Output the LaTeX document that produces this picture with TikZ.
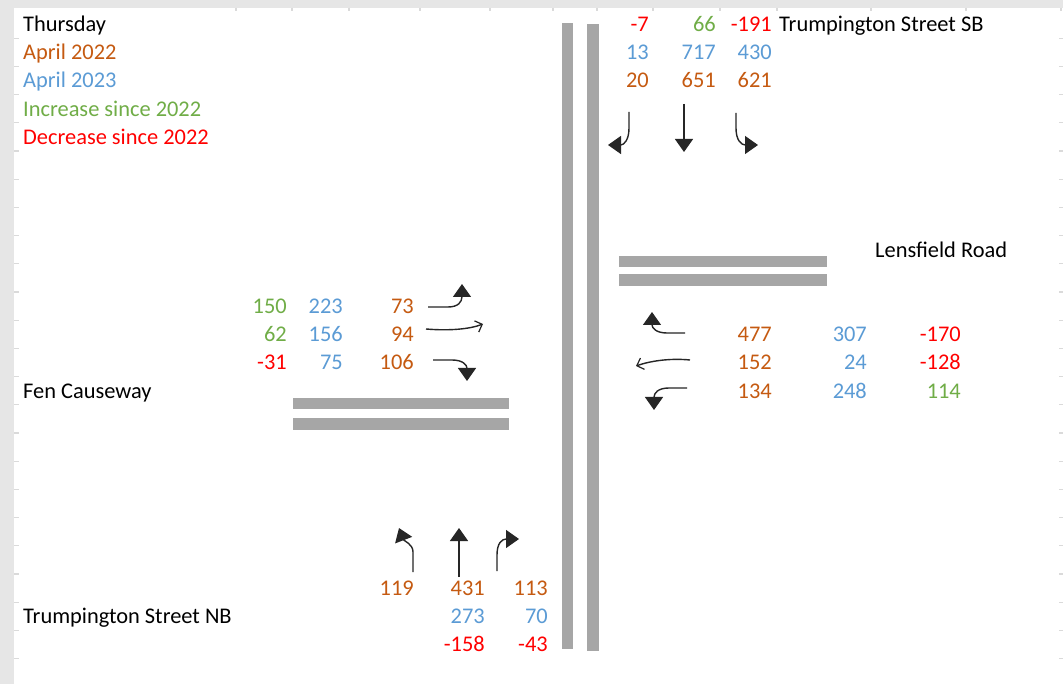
\documentclass[tikz,border=0pt]{standalone}
\usepackage{fontspec}
\setmainfont{Carlito}
\usetikzlibrary{arrows.meta}
\definecolor{cOr}{HTML}{C55A11}
\definecolor{cBl}{HTML}{5B9BD5}
\definecolor{cGr}{HTML}{70AD47}
\definecolor{cRd}{HTML}{FF0000}
\definecolor{road}{HTML}{A6A6A6}
\definecolor{band}{HTML}{E6E6E6}
\definecolor{tickc}{HTML}{DADADA}
\begin{document}
\begin{tikzpicture}[x=1pt,y=-1pt,font=\fontsize{22.4}{27}\selectfont,
  num/.style={anchor=base east,inner sep=0pt},
  lab/.style={anchor=base west,inner sep=0pt},
  roadbar/.style={fill=road,draw=none},
  mv/.style={draw=black!85,line width=1.4pt},
  solidtip/.style={-{Triangle[width=18pt,length=13pt]}},
  opentip/.style={-{Straight Barb[width=12pt,length=6pt,line width=1.2pt]}},
  gridtick/.style={draw=tickc,line width=1.2pt}]
% background
\fill[white] (0,0) rectangle (1063,684);
\fill[band] (0,0) rectangle (1063,8);
\fill[band] (0,0) rectangle (14,684);
\useasboundingbox (0,0) rectangle (1063,684);
\foreach \k in {1,...,24} {
  \draw[gridtick] (14,{10+28.2*\k}) -- (19,{10+28.2*\k});
  \draw[gridtick] (1059,{10+28.2*\k}) -- (1063,{10+28.2*\k});
}
\foreach \c in {236,292,349,420,490,553,597,653,720,777,871,966,1061}
  \draw[gridtick] (\c,8) -- (\c,11);

% roads
\fill[roadbar] (562,23) rectangle (573,649);
\fill[roadbar] (587,24) rectangle (599,651);
\fill[roadbar] (619,256) rectangle (827,267);
\fill[roadbar] (619,274) rectangle (827,286);
\fill[roadbar] (293,398) rectangle (509,409);
\fill[roadbar] (293,418) rectangle (509,430);

% legend and labels
\node[lab] (thu) at (23,31.5) {Thursday};
\node[lab,text=cOr] (k22) at (23,59.7) {April 2022};
\node[lab,text=cBl] (k23) at (23,87.9) {April 2023};
\node[lab,text=cGr] (kinc) at (23,116.1) {Increase since 2022};
\node[lab,text=cRd] (kdec) at (23,144.3) {Decrease since 2022};
\node[lab] (fen) at (23,398.1) {Fen Causeway};
\node[lab] (tnb) at (23,623.7) {Trumpington Street NB};
\node[lab] (tsb) at (779,31.5) {Trumpington Street SB};
\node[lab] (lens) at (875,257.1) {Lensfield Road};

% Trumpington Street SB
\node[num,text=cRd] (sb1a) at (649,31.5) {-7};
\node[num,text=cGr] (sb1b) at (716,31.5) {66};
\node[num,text=cRd] (sb1c) at (772,31.5) {-191};
\node[num,text=cBl] (sb2a) at (649,59.7) {13};
\node[num,text=cBl] (sb2b) at (716,59.7) {717};
\node[num,text=cBl] (sb2c) at (772,59.7) {430};
\node[num,text=cOr] (sb3a) at (649,87.9) {20};
\node[num,text=cOr] (sb3b) at (716,87.9) {651};
\node[num,text=cOr] (sb3c) at (772,87.9) {621};

% Fen Causeway
\node[num,text=cGr] (fc1a) at (287,313.5) {150};
\node[num,text=cBl] (fc1b) at (343,313.5) {223};
\node[num,text=cOr] (fc1c) at (414,313.5) {73};
\node[num,text=cGr] (fc2a) at (287,341.7) {62};
\node[num,text=cBl] (fc2b) at (343,341.7) {156};
\node[num,text=cOr] (fc2c) at (414,341.7) {94};
\node[num,text=cRd] (fc3a) at (287,369.9) {-31};
\node[num,text=cBl] (fc3b) at (343,369.9) {75};
\node[num,text=cOr] (fc3c) at (414,369.9) {106};

% Lensfield Road
\node[num,text=cOr] (lr1a) at (772,341.7) {477};
\node[num,text=cBl] (lr1b) at (867,341.7) {307};
\node[num,text=cRd] (lr1c) at (961,341.7) {-170};
\node[num,text=cOr] (lr2a) at (772,369.9) {152};
\node[num,text=cBl] (lr2b) at (867,369.9) {24};
\node[num,text=cRd] (lr2c) at (961,369.9) {-128};
\node[num,text=cOr] (lr3a) at (772,398.1) {134};
\node[num,text=cBl] (lr3b) at (867,398.1) {248};
\node[num,text=cGr] (lr3c) at (961,398.1) {114};

% Trumpington Street NB
\node[num,text=cOr] (nb1a) at (414,595.5) {119};
\node[num,text=cOr] (nb1b) at (485,595.5) {431};
\node[num,text=cOr] (nb1c) at (548,595.5) {113};
\node[num,text=cBl] (nb2b) at (485,623.7) {273};
\node[num,text=cBl] (nb2c) at (548,623.7) {70};
\node[num,text=cRd] (nb3b) at (485,651.9) {-158};
\node[num,text=cRd] (nb3c) at (548,651.9) {-43};

% movement arrows: SB
\coordinate (sbLs) at (629,112); \coordinate (sbLe) at (608,145);
\coordinate (sbTs) at (684,104); \coordinate (sbTe) at (684,152);
\coordinate (sbRs) at (736,113); \coordinate (sbRe) at (758,145);
\draw[mv,solidtip] (sbLs) -- (629,128) .. controls (629,140) and (624,145) .. (sbLe);
\draw[mv,solidtip] (sbTs) -- (sbTe);
\draw[mv,solidtip] (sbRs) -- (736,128) .. controls (736,140) and (741,145) .. (sbRe);

% Fen Causeway EB
\coordinate (fcLs) at (428,307); \coordinate (fcLe) at (462,284);
\coordinate (fcTs) at (426,329); \coordinate (fcTe) at (483,324);
\coordinate (fcRs) at (433,360); \coordinate (fcRe) at (467,381);
\draw[mv,solidtip] (fcLs) -- (448,307) .. controls (458,307) and (462,302) .. (fcLe);
\draw[mv,opentip] (fcTs) .. controls (450,331) and (470,329) .. (fcTe);
\draw[mv,solidtip] (fcRs) -- (452,360) .. controls (463,360) and (467,365) .. (fcRe);

% Lensfield Road WB
\coordinate (lrRs) at (685,333); \coordinate (lrRe) at (652,312);
\coordinate (lrTs) at (690,360); \coordinate (lrTe) at (636,366);
\coordinate (lrLs) at (687,388); \coordinate (lrLe) at (654,410);
\draw[mv,solidtip] (lrRs) -- (667,333) .. controls (656,333) and (652,328) .. (lrRe);
\draw[mv,opentip] (lrTs) .. controls (670,358) and (650,361) .. (lrTe);
\draw[mv,solidtip] (lrLs) -- (669,388) .. controls (658,388) and (654,393) .. (lrLe);

% Trumpington Street NB
\coordinate (nbLs) at (413,572); \coordinate (nbLe) at (399,528);
\coordinate (nbTs) at (459,577); \coordinate (nbTe) at (459,528);
\coordinate (nbRs) at (497,571); \coordinate (nbRe) at (519,539);
\draw[mv,solidtip] (nbLs) -- (413,552) .. controls (413,544) and (404,541) .. (nbLe);
\draw[mv,solidtip] (nbTs) -- (nbTe);
\draw[mv,solidtip] (nbRs) -- (497,555) .. controls (497,543) and (502,539) .. (nbRe);
\end{tikzpicture}
\end{document}
